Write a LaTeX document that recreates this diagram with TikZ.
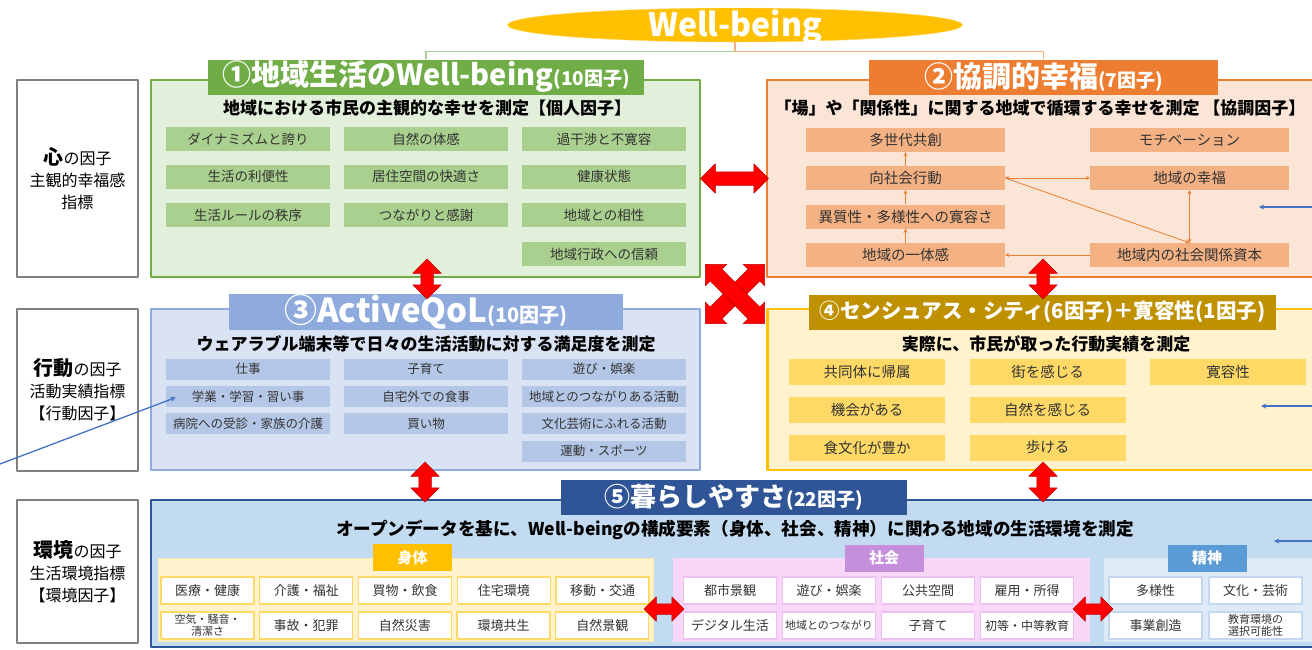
\documentclass[tikz,border=0pt]{standalone}
\usepackage{fontspec}
\setmainfont{Noto Sans CJK JP}
\usetikzlibrary{shapes.geometric,shapes.arrows,calc}
\definecolor{grn}{HTML}{70AD47}
\definecolor{grnL}{HTML}{E2EFDA}
\definecolor{grnI}{HTML}{A9D08E}
\definecolor{org}{HTML}{ED7D31}
\definecolor{orgL}{HTML}{FBE5D6}
\definecolor{orgI}{HTML}{F4B183}
\definecolor{blu}{HTML}{8FAADC}
\definecolor{bluL}{HTML}{DAE3F3}
\definecolor{bluI}{HTML}{B4C7E7}
\definecolor{gld}{HTML}{BF9000}
\definecolor{yel}{HTML}{FFC000}
\definecolor{yelL}{HTML}{FFF2CC}
\definecolor{yelI}{HTML}{FFD966}
\definecolor{nav}{HTML}{2F5597}
\definecolor{navL}{HTML}{C3DBF0}
\definecolor{pnk}{HTML}{F7D6F7}
\definecolor{pnkB}{HTML}{EDC0EF}
\definecolor{vio}{HTML}{C58FDB}
\definecolor{sky}{HTML}{DEEBF7}
\definecolor{skyB}{HTML}{C3D8EE}
\definecolor{stl}{HTML}{5B9BD5}
\definecolor{arw}{HTML}{4472C4}
\newcommand\fsz[1]{\fontsize{#1}{#1}\selectfont}
\tikzset{
 frame/.style={draw=#1, line width=2.6, inner sep=0},
 tab/.style={fill=#1, text=white, inner sep=0, minimum height=35, font=\bfseries\fsz{29}},
 sub/.style={font=\bfseries\fsz{17}, inner sep=0},
 item/.style={fill=#1, inner sep=0, text=black!80},
 cell/.style={fill=white, draw=#1, line width=1.2, inner sep=0, minimum width=93, minimum height=27, font=\fsz{13}, text=black!80, align=center},
 panel/.style={fill=#1, inner sep=0},
 ptab/.style={fill=#1, text=white, inner sep=0, minimum width=79, minimum height=27, font=\bfseries\fsz{15}},
 lbl/.style={draw=black!50, line width=1.5, fill=white, minimum width=121, align=center, font=\fontsize{16}{22}\selectfont},
 fat/.style={double arrow, fill=red, draw=red!75!black, line width=.5, inner sep=6,
   minimum height=#1, double arrow head extend=8, double arrow head indent=0},
 flow/.style={draw=org, line width=.8, >=stealth},
 hint/.style={draw=arw, line width=1.3, ->, >=stealth},
}
\begin{document}
\begin{tikzpicture}[x=1pt, y=-1pt, line join=round]
 \path[use as bounding box, clip] (0,0) rectangle (1312,649);
 \node[ellipse, fill=yel, draw=yel!60, minimum width=455, minimum height=34, inner sep=0,
   text height=22, text depth=0, text=white, font=\bfseries\fsz{32}] (wb) at (735,25) {Well-being};

 \node[lbl, minimum height=197] (ka) at (77.5,178.5) {{\bfseries\fontsize{20}{22}\selectfont 心}の因子\\主観的幸福感\\指標};
 \node[lbl, minimum height=162] (kb) at (77.5,390) {{\bfseries\fontsize{20}{22}\selectfont 行動}の因子\\活動実績指標\\【行動因子】};
 \node[lbl, minimum height=143] (kc) at (77.5,571.5) {{\bfseries\fontsize{20}{22}\selectfont 環境}の因子\\生活環境指標\\【環境因子】};

 \node[frame=grn, fill=grnL, minimum width=549, minimum height=197] (b1) at (425.5,178.5) {};
 \node[frame=org, fill=orgL, minimum width=568, minimum height=197] (b2) at (1051,178.5) {};
 \node[frame=blu, fill=bluL, minimum width=549, minimum height=161] (b3) at (425.5,389.5) {};
 \node[frame=yel, fill=yelL, minimum width=568, minimum height=161] (b4) at (1051.5,389.5) {};
 \node[frame=nav, fill=navL, minimum width=1184, minimum height=147] (b5) at (743,573.5) {};

 \node[tab=grn, minimum width=436] (t1) at (426,77) {①地域生活のWell-being{\fsz{19}(10因子)}};
 \node[tab=org, minimum width=349] (t2) at (1043.5,77) {②協調的幸福{\fsz{19}(7因子)}};
 \node[tab=blu, minimum width=394, font=\bfseries\fsz{33}] (t3) at (426,312) {③ActiveQoL{\fsz{20}(10因子)}};
 \node[tab=gld, minimum width=467, font=\bfseries\fsz{20.5}] (t4) at (1042.5,312) {④センシュアス・シティ(6因子)＋寛容性(1因子)};
 \node[tab=nav, minimum width=346, font=\bfseries\fsz{26}] (t5) at (734,497) {⑤暮らしやすさ{\fsz{19}(22因子)}};

 \draw[grnI, line width=1.2] (wb.south) -- ++(0,9) -| (t1.north);
 \draw[orgI, line width=1.2] (wb.south) -- ++(0,9) -| (t2.north);

 \path
 (427,108) node[sub] (s1) {地域における市民の主観的な幸せを測定【個人因子】}
 (1040,108) node[sub] (s2) {「場」や「関係性」に関する地域で循環する幸せを測定 【協調因子】}
 (426,344) node[sub] (s3) {ウェアラブル端末等で日々の生活活動に対する満足度を測定}
 (1046,344) node[sub] (s4) {実際に、市民が取った行動実績を測定}
 (735,530) node[sub, font=\bfseries\fsz{17.6}] (s5) {オープンデータを基に、Well-beingの構成要素（身体、社会、精神）に関わる地域の生活環境を測定};

 \foreach \t/\x/\y [count=\i] in {ダイナミズムと誇り/248/139, 自然の体感/426/139, 過干渉と不寛容/604/139,
   生活の利便性/248/176.5, 居住空間の快適さ/426/176.5, 健康状態/604/176.5,
   生活ルールの秩序/248/215, つながりと感謝/426/215, 地域との相性/604/215, 地域行政への信頼/604/254}
   \node[item=grnI, minimum width=164, minimum height=24, font=\fsz{13.5}] (p\i) at (\x,\y) {\t};

 \path[every node/.style={item=orgI, minimum width=199, minimum height=24, font=\fsz{14.5}}]
 (905.5,140) node (kyo) {多世代共創}
 (905.5,178) node (kou) {向社会行動}
 (905.5,216.5) node (iro) {異質性・多様性への寛容さ}
 (905.5,255) node (itt) {地域の一体感}
 (1189.5,140) node (mot) {モチベーション}
 (1189.5,178) node (kof) {地域の幸福}
 (1189.5,255) node (shk) {地域内の社会関係資本};
 \draw[flow,->] (itt) -- (iro);
 \draw[flow,->] (iro) -- (kou);
 \draw[flow,->] (kou) -- (kyo);
 \draw[flow,<->] (kou) -- (kof);
 \draw[flow,->] (kou.east) -- (shk.north);
 \draw[flow,<->] (kof) -- (shk);
 \draw[flow,->] (shk) -- (itt);

 \foreach \t/\x/\y [count=\i] in {仕事/248/369, 子育て/426/369, 遊び・娯楽/604/369,
   学業・学習・習い事/248/396.5, 自宅外での食事/426/396.5, 地域とのつながりある活動/604/396.5,
   病院への受診・家族の介護/248/423.5, 買い物/426/423.5, 文化芸術にふれる活動/604/423.5, 運動・スポーツ/604/451}
   \node[item=bluI, minimum width=164, minimum height=21, font=\fsz{12.5}] (q\i) at (\x,\y) {\t};

 \foreach \t/\x/\y [count=\i] in {共同体に帰属/867/372, 機会がある/867/410, 食文化が豊か/867/447.5,
   街を感じる/1047.5/372, 自然を感じる/1047.5/410, 歩ける/1047.5/447.5, 寛容性/1228/372}
   \node[item=yelI, minimum width=156, minimum height=26, font=\fsz{14.5}] (r\i) at (\x,\y) {\t};

 \node[panel=yelL, draw=yelI!60, minimum width=495, minimum height=83] (pb) at (405.5,599.5) {};
 \node[panel=pnk, draw=pnkB!60, minimum width=416, minimum height=83] (ps) at (881,599.5) {};
 \node[panel=sky, draw=skyB!60, minimum width=236, minimum height=83] (pm) at (1222,599.5) {};
 \node[ptab=yel] (tb) at (412.5,557.5) {身体};
 \node[ptab=vio] (ts) at (884,558) {社会};
 \node[ptab=stl] (tm) at (1207,558) {精神};

 \foreach \t [count=\i] in {医療・健康,介護・福祉,買物・飲食,住宅環境,移動・交通}
   \node[cell=yelI] (u\i) at ({207.5+98.75*(\i-1)},590.5) {\t};
 \node[cell=yelI, font=\fontsize{11}{12}\selectfont] (u6) at (207.5,625.5) {空気・騒音・\\清潔さ};
 \foreach \t [count=\i from 7] in {事故・犯罪,自然災害,環境共生,自然景観}
   \node[cell=yelI] (u\i) at ({306+98.75*(\i-7)},625.5) {\t};

 \foreach \t [count=\i] in {都市景観,遊び・娯楽,公共空間,雇用・所得}
   \node[cell=pnkB] (v\i) at ({730+99*(\i-1)},590.5) {\t};
 \foreach \t/\f [count=\i from 5] in {デジタル生活/13,地域とのつながり/11,子育て/13,初等・中等教育/12}
   \node[cell=pnkB, font=\fsz{\f}] (v\i) at ({730+99*(\i-5)},625.5) {\t};

 \node[cell=skyB] (w1) at (1155.5,590.5) {多様性};
 \node[cell=skyB] (w2) at (1255.5,590.5) {文化・芸術};
 \node[cell=skyB] (w3) at (1155.5,625.5) {事業創造};
 \node[cell=skyB, font=\fontsize{11}{12}\selectfont] (w4) at (1255.5,625.5) {教育環境の\\選択可能性};

 \node[fat=68, inner sep=6.5] (a12) at (734.5,178.5) {};
 \node[fat=40, rotate=90] (a13) at (427,279) {};
 \node[fat=40, rotate=90] (a24) at (1043,279) {};
 \node[fat=40, rotate=90] (a35) at (425,482) {};
 \node[fat=40, rotate=90] (a45) at (1043,482) {};
 \node[fat=84, inner sep=8, double arrow head extend=7, rotate=45] (x1) at (735,294) {};
 \node[fat=84, inner sep=8, double arrow head extend=7, rotate=-45] (x2) at (735,294) {};
 \node[fat=40, inner sep=5, double arrow head extend=7] (a6) at (664,609) {};
 \node[fat=40, inner sep=5, double arrow head extend=7] (a7) at (1093,609) {};

 \coordinate (h0) at (0,464);
 \coordinate (h1) at (1330,207); \coordinate (h2) at (1259,207);
 \coordinate (h3) at (1330,406); \coordinate (h4) at (1261,406);
 \coordinate (h5) at (1330,541); \coordinate (h6) at (1274,541);
 \draw[hint] (h0) -- ($(q4.west)+(10,1)$);
 \draw[hint] (h1) -- (h2);
 \draw[hint] (h3) -- (h4);
 \draw[hint] (h5) -- (h6);
\end{tikzpicture}
\end{document}
